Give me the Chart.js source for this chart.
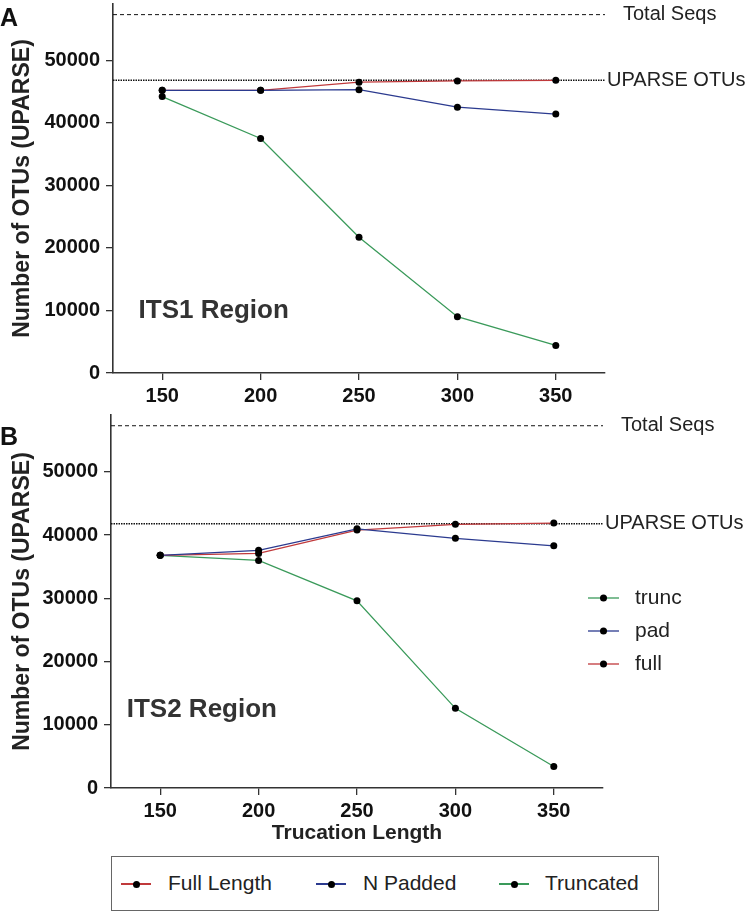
<!DOCTYPE html>
<html>
<head>
<meta charset="utf-8">
<script src="https://cdn.jsdelivr.net/npm/chart.js@4.4.1/dist/chart.umd.min.js"></script>
<style>
  body { margin: 0; background: #fff; font-family: "Liberation Sans", Arial, sans-serif; }
  #wrap { position: relative; width: 750px; height: 912px; overflow: hidden; }
  canvas { position: absolute; left: 0; }
  #legendBox {
    position: absolute; left: 111px; top: 856px; width: 546px; height: 53px;
    border: 1px solid #666; color: #222; font-size: 21px;
  }
  .mk { position: absolute; top: 26px; width: 30px; height: 2px; }
  .mk b { position: absolute; left: 12px; top: -2.5px; width: 7px; height: 7px; border-radius: 50%; background: #000; }
  .lt { position: absolute; top: 13px; line-height: 26px; }
</style>
</head>
<body>
<div id="wrap">
  <canvas id="its1" width="750" height="410" style="top:0"></canvas>
  <canvas id="its2" width="750" height="445" style="top:405px"></canvas>
  <div id="legendBox">
    <span class="mk" style="left:9px;background-color:#c0393b"><b></b></span>
    <span class="lt" style="left:56px">Full Length</span>
    <span class="mk" style="left:204px;background-color:#2b3a8f"><b></b></span>
    <span class="lt" style="left:251px">N Padded</span>
    <span class="mk" style="left:387px;background-color:#3a9a5a"><b></b></span>
    <span class="lt" style="left:433px">Truncated</span>
  </div>
</div>
<script>
Chart.defaults.font.family = "'Liberation Sans', Arial, sans-serif";

// truncation lengths (x values)
const lengths = [150, 200, 250, 300, 350];
const xTicks = [150, 200, 250, 300, 350];
const yTicks = [0, 10000, 20000, 30000, 40000, 50000];

// ITS1 region
const its1Full = [45200, 45200, 46500, 46700, 46800];
const its1Pad = [45200, 45200, 45300, 42500, 41400];
const its1Trunc = [44200, 37500, 21700, 9000, 4400];
const its1TotalSeqs = 57300;
const its1Uparse = 46800;

// ITS2 region
const its2Full = [36800, 37100, 40800, 41700, 41900];
const its2Pad = [36800, 37600, 41000, 39500, 38300];
const its2Trunc = [36800, 36000, 29600, 12600, 3400];
const its2TotalSeqs = 57300;
const its2Uparse = 41800;

const RED = "#c0393b", BLUE = "#2b3a8f", GREEN = "#3a9a5a";
const X_MIN = 125, X_MAX = 375;

function series(vals, color) {
  return {
    data: lengths.map((x, i) => ({ x, y: vals[i] })),
    borderColor: color,
    borderWidth: 1.3,
    pointRadius: 3.5,
    pointBackgroundColor: "#000",
    pointBorderColor: "#000",
    pointBorderWidth: 0
  };
}

function refLine(v, dash, width) {
  return {
    data: [{ x: X_MIN, y: v }, { x: X_MAX, y: v }],
    borderColor: "#111",
    borderWidth: width,
    borderDash: dash,
    pointRadius: 0
  };
}

// text outside / inside plot area
const panelText = {
  id: "panelText",
  afterDraw(chart, args, opts) {
    const { ctx, chartArea } = chart;
    const xs = chart.scales.x, ys = chart.scales.y;
    ctx.save();
    ctx.textBaseline = "middle";
    ctx.textAlign = "left";
    // panel letter
    ctx.fillStyle = "#111";
    ctx.font = "bold 25px 'Liberation Sans', Arial, sans-serif";
    ctx.fillText(opts.letter, 0, opts.letterY);
    // region name
    ctx.fillStyle = "#333";
    ctx.font = "bold 26px 'Liberation Sans', Arial, sans-serif";
    ctx.fillText(opts.region, xs.getPixelForValue(opts.regionX), ys.getPixelForValue(opts.regionY));
    // reference labels
    ctx.fillStyle = "#222";
    ctx.font = "20px 'Liberation Sans', Arial, sans-serif";
    ctx.fillText("Total Seqs", chartArea.right + 18, ys.getPixelForValue(opts.total));
    ctx.fillText("UPARSE OTUs", chartArea.right + 2, ys.getPixelForValue(opts.uparse));
    // side legend
    if (opts.side) {
      ctx.font = "21px 'Liberation Sans', Arial, sans-serif";
      opts.side.forEach((s, i) => {
        const y = 193 + i * 33;
        ctx.strokeStyle = s.color;
        ctx.lineWidth = 1.3;
        ctx.beginPath();
        ctx.moveTo(588, y);
        ctx.lineTo(619, y);
        ctx.stroke();
        ctx.fillStyle = "#000";
        ctx.beginPath();
        ctx.arc(603.5, y, 3.5, 0, Math.PI * 2);
        ctx.fill();
        ctx.fillStyle = "#222";
        ctx.fillText(s.label, 635, y);
      });
    }
    ctx.restore();
  }
};

function makeChart(id, full, pad, trunc, total, uparse, cfg) {
  const ctx = document.getElementById(id).getContext("2d");
  return new Chart(ctx, {
    type: "line",
    data: {
      datasets: [
        series(pad, BLUE),
        series(full, RED),
        series(trunc, GREEN),
        refLine(uparse, [1.5, 1], 1.6),
        refLine(total, [4, 3], 1)
      ]
    },
    options: {
      responsive: false,
      animation: false,
      layout: { padding: cfg.padding },
      plugins: {
        legend: { display: false },
        tooltip: { enabled: false },
        panelText: cfg.text
      },
      scales: {
        x: {
          type: "linear",
          min: X_MIN,
          max: X_MAX,
          afterBuildTicks: s => { s.ticks = xTicks.map(v => ({ value: v })); },
          afterFit: s => { s.height = cfg.xHeight; s.paddingLeft = 0; s.paddingRight = 0; },
          grid: { drawOnChartArea: false, tickLength: 7, color: "#333", lineWidth: 1.3 },
          border: { color: "#333", width: 1.6 },
          ticks: { color: "#111", padding: 4, font: { size: 20, weight: "bold" }, callback: v => String(v) },
          title: {
            display: !!cfg.xTitle,
            text: cfg.xTitle || "",
            color: "#222",
            padding: { top: 0, bottom: 4 },
            font: { size: 21, weight: "bold" }
          }
        },
        y: {
          min: 0,
          max: 59000,
          afterBuildTicks: s => { s.ticks = yTicks.map(v => ({ value: v })); },
          afterFit: s => { s.width = cfg.yWidth; s.paddingTop = 0; s.paddingBottom = 0; },
          grid: { drawOnChartArea: false, tickLength: 7, color: "#333", lineWidth: 1.3 },
          border: { color: "#333", width: 1.6 },
          ticks: { color: "#111", padding: 6, font: { size: 20, weight: "bold" }, callback: v => String(v) },
          title: {
            display: true,
            text: "Number of OTUs (UPARSE)",
            color: "#222",
            padding: { top: 9, bottom: 0 },
            font: { size: 23, weight: "bold" }
          }
        }
      }
    },
    plugins: [panelText]
  });
}

makeChart("its1", its1Full, its1Pad, its1Trunc, its1TotalSeqs, its1Uparse, {
  padding: { left: 0, right: 145, top: 0, bottom: 0 },
  xHeight: 37,
  yWidth: 113,
  text: {
    letter: "A", letterY: 19, region: "ITS1 Region", regionX: 138, regionY: 10000,
    total: its1TotalSeqs, uparse: its1Uparse
  }
});

makeChart("its2", its2Full, its2Pad, its2Trunc, its2TotalSeqs, its2Uparse, {
  padding: { left: 0, right: 147, top: 10, bottom: 0 },
  xHeight: 62,
  yWidth: 111,
  xTitle: "Trucation Length",
  text: {
    letter: "B", letterY: 33, region: "ITS2 Region", regionX: 133, regionY: 12300,
    total: its2TotalSeqs, uparse: its2Uparse,
    side: [
      { label: "trunc", color: GREEN },
      { label: "pad", color: BLUE },
      { label: "full", color: RED }
    ]
  }
});
</script>
</body>
</html>
